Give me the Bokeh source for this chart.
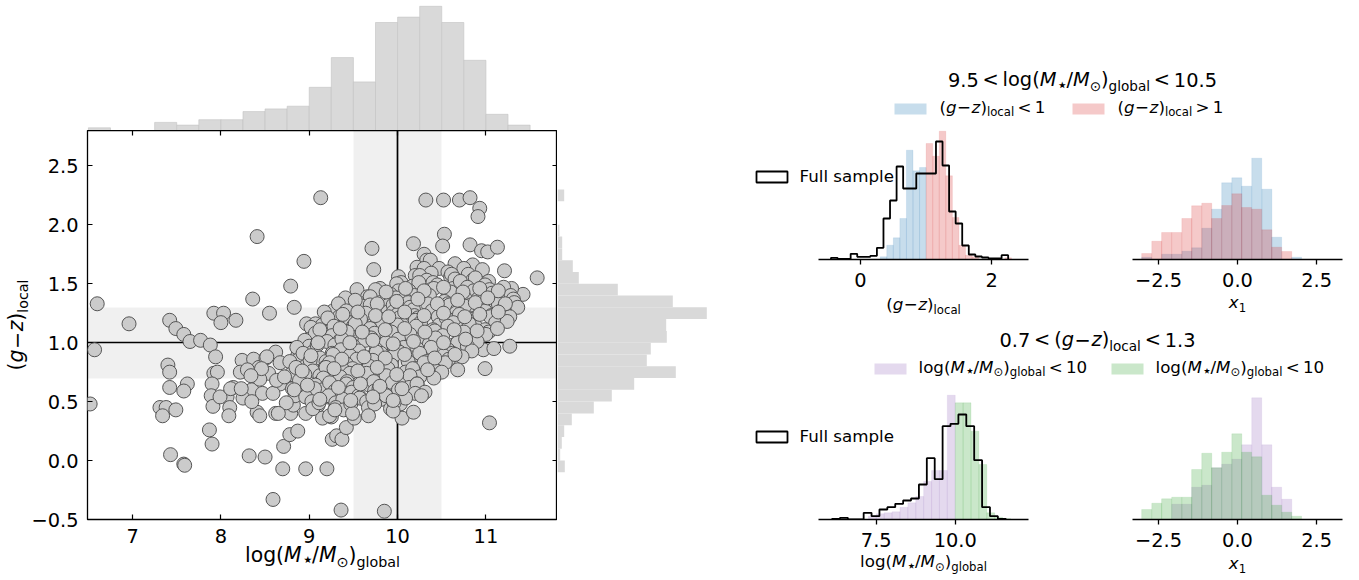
import math
from bokeh.plotting import figure
from bokeh.models import Range1d, LinearAxis, FixedTicker, Label, GridBox, Spacer
from bokeh.layouts import row, column
from bokeh.embed import file_html
from bokeh.resources import INLINE

FONT = "DejaVu Sans"

# ------------------------------------------------------------------ data
# main scatter: (log M*/Msun global, (g-z) local)
scatter_outer = [
    (9.13, 2.23), (10.32, 2.21), (10.52, 2.21), (10.70, 2.21), (10.82, 2.23), (10.93, 2.14), (10.91, 2.07),
    (8.41, 1.90), (10.53, 1.92), (10.51, 1.82), (10.18, 1.84), (9.71, 1.80), (10.82, 1.83), (10.95, 1.78),
    (11.02, 1.77), (11.13, 1.81), (8.94, 1.69), (9.73, 1.62), (11.21, 1.61), (11.58, 1.55), (8.79, 1.48),
    (8.36, 1.37), (9.54, 1.45), (11.42, 1.41), (11.29, 1.46), (8.83, 1.30), (8.55, 1.25), (6.60, 1.33),
    (6.96, 1.16), (7.92, 1.25), (8.03, 1.25), (8.00, 1.17), (8.17, 1.19), (7.42, 1.19), (7.49, 1.12),
    (7.58, 1.07), (7.65, 1.01), (7.77, 1.02), (7.88, 0.98), (7.94, 0.88), (6.57, 0.94), (7.40, 0.81),
    (7.42, 0.75), (7.42, 0.62), (7.62, 0.65), (7.58, 0.59), (6.52, 0.48), (7.31, 0.45), (7.38, 0.45),
    (7.34, 0.38), (7.49, 0.43), (7.92, 0.74), (7.96, 0.75), (7.90, 0.65), (7.89, 0.55), (7.91, 0.46),
    (7.87, 0.26), (7.90, 0.14), (7.43, 0.05), (7.58, -0.03), (7.59, -0.04), (8.32, 0.04), (8.50, 0.03),
    (8.71, 0.12), (8.78, 0.22), (8.87, 0.25), (8.70, -0.07), (8.96, -0.07), (9.20, -0.07), (8.59, -0.33),
    (9.36, -0.42), (9.85, -0.43), (9.26, 0.18), (9.31, 0.21), (9.37, 0.18), (9.42, 0.28), (9.51, 0.36),
    (10.05, 0.36), (10.18, 0.41), (11.04, 0.32), (10.99, 0.78), (11.27, 0.97), (10.97, 0.94), (11.09, 0.95),
    (8.07, 0.54), (8.10, 0.45), (8.09, 0.38), (8.24, 0.85), (8.37, 0.86), (8.22, 0.75), (8.43, 0.79),
    (8.51, 0.87), (8.62, 0.92), (8.67, 0.83), (8.35, 0.60), (8.41, 0.41), (8.44, 0.38), (8.25, 0.53),
    (8.14, 0.62), (8.47, 0.57), (8.62, 0.40), (8.79, 0.40), (8.82, 0.47), (8.96, 0.40), (9.10, 0.47),
    (9.15, 0.36), (9.25, 0.37), (8.87, 0.64), (8.84, 0.55), (8.67, 0.65), (8.54, 0.74), (8.90, 0.95),
    (8.87, 0.89), (8.97, 1.16), (9.07, 1.16), (9.04, 1.08), (8.30, 0.77), (8.59, 0.57), (8.44, 0.69),
    (8.52, 0.88), (8.46, 0.78), (8.34, 0.72), (8.63, 0.68), (8.81, 0.73), (8.74, 0.49), (7.99, 0.54),
    (8.11, 0.61), (8.23, 0.61), (8.35, 0.50), (8.65, 0.40),
]
scatter_core = [
    (10.30, 1.75), (10.33, 1.70),
    (10.22, 1.64), (10.37, 1.70), (10.47, 1.63), (10.65, 1.67), (10.81, 1.62), (10.85, 1.66),
    (10.20, 1.57), (10.30, 1.63), (10.38, 1.59), (10.57, 1.60), (10.60, 1.56), (10.75, 1.63), (10.80, 1.58), (10.96, 1.62),
    (10.01, 1.56), (10.04, 1.51), (10.25, 1.57), (10.33, 1.53), (10.40, 1.51), (10.61, 1.58), (10.65, 1.54), (10.85, 1.53),
    (10.88, 1.55), (11.03, 1.52),
    (9.80, 1.46), (9.99, 1.50), (10.01, 1.44), (10.17, 1.48), (10.24, 1.51), (10.38, 1.45), (10.45, 1.49), (10.63, 1.46),
    (10.71, 1.52), (10.79, 1.47), (10.99, 1.49), (11.04, 1.45), (11.20, 1.47),
    (9.66, 1.39), (9.75, 1.45), (9.92, 1.41), (9.98, 1.38), (10.13, 1.44), (10.19, 1.40), (10.35, 1.42), (10.41, 1.46),
    (10.57, 1.39), (10.60, 1.43), (10.81, 1.40), (10.86, 1.44), (10.99, 1.38), (11.07, 1.42), (11.28, 1.40), (11.31, 1.37),
    (9.41, 1.38), (9.61, 1.33), (9.69, 1.39), (9.86, 1.35), (9.90, 1.32), (10.08, 1.37), (10.12, 1.34), (10.33, 1.36),
    (10.36, 1.40), (10.53, 1.35), (10.57, 1.33), (10.76, 1.38), (10.83, 1.32), (10.91, 1.37), (11.09, 1.35), (11.13, 1.39),
    (11.32, 1.34),
    (9.27, 1.27), (9.33, 1.33), (9.52, 1.28), (9.60, 1.31), (9.69, 1.32), (9.89, 1.26), (9.95, 1.32), (10.14, 1.30),
    (10.18, 1.28), (10.34, 1.33), (10.40, 1.27), (10.59, 1.32), (10.68, 1.28), (10.76, 1.31), (10.94, 1.29), (10.98, 1.26),
    (11.14, 1.33), (11.20, 1.29), (11.36, 1.30),
    (9.17, 1.26), (9.34, 1.22), (9.42, 1.27), (9.59, 1.21), (9.64, 1.25), (9.80, 1.20), (9.95, 1.26), (10.00, 1.24),
    (10.19, 1.23), (10.23, 1.21), (10.39, 1.27), (10.46, 1.22), (10.66, 1.25), (10.70, 1.24), (10.82, 1.20), (10.99, 1.27),
    (11.06, 1.23), (11.22, 1.24), (11.27, 1.22),
    (9.15, 1.15), (9.21, 1.21), (9.41, 1.19), (9.50, 1.14), (9.58, 1.20), (9.77, 1.17), (9.83, 1.16), (10.02, 1.21),
    (10.06, 1.15), (10.20, 1.19), (10.26, 1.17), (10.47, 1.15), (10.55, 1.21), (10.63, 1.17), (10.82, 1.18), (10.88, 1.14),
    (11.05, 1.22), (11.11, 1.17), (11.24, 1.18),
    (9.02, 1.13), (9.21, 1.09), (9.28, 1.14), (9.46, 1.10), (9.52, 1.16), (9.69, 1.12), (9.74, 1.08), (9.95, 1.13),
    (10.00, 1.15), (10.14, 1.09), (10.21, 1.14), (10.40, 1.11), (10.49, 1.08), (10.57, 1.14), (10.75, 1.12), (10.81, 1.16),
    (10.99, 1.11), (11.03, 1.09),
    (9.01, 1.03), (9.07, 1.08), (9.26, 1.06), (9.35, 1.02), (9.43, 1.09), (9.62, 1.07), (9.70, 1.04), (9.88, 1.06),
    (9.93, 1.09), (10.07, 1.03), (10.14, 1.07), (10.35, 1.05), (10.42, 1.10), (10.51, 1.06), (10.70, 1.02), (10.75, 1.09),
    (10.90, 1.05), (11.00, 1.07),
    (8.95, 1.02), (9.00, 0.97), (9.20, 1.01), (9.29, 0.98), (9.37, 1.03), (9.55, 0.99), (9.63, 1.02), (9.82, 0.97),
    (9.87, 1.00), (10.01, 1.03), (10.07, 0.96), (10.27, 1.01), (10.36, 0.99), (10.43, 1.04), (10.63, 0.98), (10.68, 1.00),
    (10.84, 0.96), (10.90, 1.01),
    (8.86, 0.96), (9.04, 0.92), (9.09, 0.98), (9.26, 0.91), (9.36, 0.94), (9.50, 0.97), (9.56, 0.93), (9.76, 0.94),
    (9.81, 0.91), (9.96, 0.97), (10.02, 0.92), (10.22, 0.95), (10.30, 0.90), (10.38, 0.96), (10.57, 0.94), (10.62, 0.91),
    (10.79, 0.97), (10.84, 0.93),
    (8.87, 0.85), (8.93, 0.91), (9.12, 0.87), (9.19, 0.84), (9.27, 0.90), (9.46, 0.89), (9.54, 0.86), (9.71, 0.88),
    (9.76, 0.92), (9.93, 0.85), (9.97, 0.90), (10.16, 0.87), (10.25, 0.91), (10.33, 0.84), (10.52, 0.89), (10.58, 0.86),
    (10.73, 0.88),
    (8.78, 0.84), (8.96, 0.80), (9.01, 0.85), (9.18, 0.79), (9.23, 0.83), (9.42, 0.82), (9.49, 0.78), (9.67, 0.83),
    (9.72, 0.85), (9.89, 0.80), (9.93, 0.81), (10.12, 0.84), (10.21, 0.78), (10.30, 0.83), (10.48, 0.81), (10.54, 0.83),
    (10.68, 0.77),
    (8.79, 0.73), (8.85, 0.79), (9.04, 0.76), (9.12, 0.72), (9.19, 0.79), (9.38, 0.77), (9.46, 0.74), (9.64, 0.76),
    (9.68, 0.80), (9.83, 0.73), (9.89, 0.78), (10.09, 0.75), (10.17, 0.78), (10.25, 0.71), (10.44, 0.76), (10.50, 0.75),
    (8.72, 0.71), (8.90, 0.68), (8.95, 0.73), (9.12, 0.66), (9.16, 0.70), (9.35, 0.71), (9.43, 0.67), (9.61, 0.71),
    (9.65, 0.74), (9.80, 0.67), (9.87, 0.72), (10.06, 0.69), (10.14, 0.72), (10.22, 0.65), (10.41, 0.70),
    (8.81, 0.61), (8.89, 0.68), (9.07, 0.64), (9.15, 0.60), (9.23, 0.66), (9.42, 0.65), (9.50, 0.62), (9.68, 0.64),
    (9.73, 0.67), (9.87, 0.60), (9.94, 0.66), (10.13, 0.62), (10.22, 0.65), (10.31, 0.58),
    (8.83, 0.60), (9.01, 0.57), (9.06, 0.61), (9.21, 0.54), (9.29, 0.59), (9.48, 0.58), (9.56, 0.55), (9.74, 0.59),
    (9.79, 0.61), (9.94, 0.55), (10.01, 0.60), (10.20, 0.57), (10.27, 0.55),
    (8.96, 0.54), (9.03, 0.50), (9.22, 0.55), (9.30, 0.49), (9.38, 0.52), (9.57, 0.53), (9.65, 0.50), (9.82, 0.52),
    (9.87, 0.55), (10.03, 0.48), (10.09, 0.53),
    (9.04, 0.44), (9.11, 0.49), (9.30, 0.45), (9.39, 0.43), (9.47, 0.48), (9.67, 0.45), (9.74, 0.48), (9.92, 0.44),
    (9.96, 0.49),
    (9.23, 0.38), (9.29, 0.43), (9.49, 0.40), (9.67, 0.38), (9.95, 0.42),
]
scatter_fill = [
    (9.87, 1.43), (10.09, 1.46), (10.30, 1.44), (10.52, 1.47), (10.74, 1.43), (10.93, 1.46), (11.14, 1.44),
    (9.52, 1.36), (9.77, 1.33), (9.99, 1.35), (10.23, 1.37), (10.45, 1.33), (10.68, 1.36), (10.88, 1.34),
    (11.02, 1.38), (11.22, 1.33),
    (9.38, 1.24), (9.55, 1.26), (9.75, 1.23), (9.90, 1.22), (10.08, 1.26), (10.30, 1.23), (10.52, 1.25),
    (10.76, 1.22), (10.93, 1.24), (11.14, 1.26),
    (9.12, 1.11), (9.35, 1.12), (9.60, 1.09), (9.86, 1.11), (10.08, 1.12), (10.31, 1.09), (10.64, 1.11),
    (10.90, 1.10), (11.13, 1.12),
    (9.10, 1.00), (9.46, 1.00), (9.72, 1.02), (9.95, 0.99), (10.18, 1.01), (10.52, 1.00), (10.77, 1.03),
    (9.02, 0.89), (9.37, 0.86), (9.62, 0.88), (9.86, 0.87), (10.08, 0.90), (10.42, 0.87), (10.65, 0.90),
    (8.92, 0.76), (9.28, 0.78), (9.55, 0.76), (9.77, 0.79), (9.99, 0.73), (10.34, 0.77),
    (8.98, 0.64), (9.33, 0.62), (9.58, 0.65), (9.80, 0.63), (10.05, 0.61),
    (9.12, 0.52), (9.47, 0.51), (9.72, 0.54), (9.95, 0.51),
]
all_points = scatter_outer + scatter_core + scatter_fill
mass_global = [p[0] for p in all_points]
gz_local = [p[1] for p in all_points]

mass_ticks = [7, 8, 9, 10, 11]
gz_ticks = [-0.5, 0.0, 0.5, 1.0, 1.5, 2.0, 2.5]
gz_tick_labels = ["\u22120.5", "0.0", "0.5", "1.0", "1.5", "2.0", "2.5"]

mass_band = [9.5, 10.5]
gz_band = [0.7, 1.3]
mass_split = [10.0]
gz_split = [1.0]

# marginal histograms
mass_hist_left = [6.50, 7.25, 7.50, 7.75, 8.00, 8.25, 8.50, 8.75, 9.00, 9.25, 9.50, 9.75, 10.00, 10.25,
                  10.50, 10.75, 11.00, 11.25]
mass_hist_counts = [1, 3, 2, 4, 4, 7, 8, 9, 16, 27, 18, 40, 42, 46, 40, 26, 6, 2]
mass_bin = 0.25
gz_hist_low = [-0.1, 0.0, 0.1, 0.2, 0.3, 0.4, 0.5, 0.6, 0.7, 0.8, 0.9, 1.0, 1.1, 1.2, 1.3, 1.4, 1.5, 1.6,
               1.7, 1.8, 1.9, 2.2]
gz_hist_counts = [7.3, 2.7, 4.3, 6.7, 14.3, 36.3, 54.3, 76.7, 118.3, 89.3, 93.3, 109.3, 108.7, 149.3,
                  115.3, 60.3, 21.3, 15.3, 4.7, 4.7, 2.0, 6.7]
gz_bin = 0.1

# panel A: (g-z)local distribution for 9.5 < logM < 10.5
pa_blue_left = [0.3, 0.4, 0.5, 0.6, 0.7, 0.8, 0.9]
pa_blue = [2.7, 14.3, 21.7, 41.0, 109.3, 88.7, 92.0]
pa_red_left = [1.0, 1.1, 1.2, 1.3, 1.4, 1.5, 1.6, 1.7, 2.2]
pa_red = [116.0, 103.3, 128.3, 83.7, 42.0, 14.3, 4.3, 2.7, 1.7]
pa_bin = 0.1
pa_full_edges = [-0.45, -0.35, -0.25, -0.15, -0.05, 0.05, 0.15, 0.25, 0.35, 0.45, 0.55, 0.65, 0.75, 0.85,
                 0.95, 1.05, 1.15, 1.25, 1.35, 1.45, 1.55, 1.65, 1.75, 1.85, 1.95, 2.05, 2.15, 2.25]
pa_full = [1.7, 0.7, 0.7, 5.7, 2.7, 2.7, 3.7, 11.7, 41.0, 59.0, 93.0, 71.0, 71.0, 86.0, 86.0, 86.0, 118.0,
           94.0, 48.0, 36.0, 14.0, 5.0, 3.0, 2.0, 1.0, 1.0, 4.3]
pa_ticks = [0, 2]
pa_tick_labels = ["0", "2"]

# panel B: x1 for the same split
x1_edges = [-3.03, -2.71, -2.40, -2.08, -1.76, -1.45, -1.13, -0.82, -0.50, -0.18, 0.13, 0.45, 0.77, 1.08,
            1.40, 1.71, 2.03]
pb_blue = [2.3, 0.0, 5.3, 5.3, 8.3, 11.7, 31.3, 50.3, 76.7, 81.7, 73.3, 101.3, 70.3, 22.3, 0.0, 2.3]
pb_red = [6.0, 18.3, 27.0, 27.0, 41.0, 53.7, 56.3, 41.0, 54.0, 65.7, 52.0, 50.3, 29.7, 12.3, 8.0, 0.0]
x1_ticks = [-2.5, 0.0, 2.5]
x1_tick_labels = ["\u22122.5", "0.0", "2.5"]

# panel C: logM distribution for 0.7 < (g-z) < 1.3
pc_purple_left = [7.25, 7.50, 7.75, 8.00, 8.25, 8.50, 8.75, 9.00, 9.25, 9.50, 9.75]
pc_purple = [3.3, 5.7, 6.7, 7.7, 12.3, 16.7, 23.0, 38.0, 49.0, 49.0, 124.3]
pc_green_left = [10.00, 10.25, 10.50, 10.75, 11.00, 11.25, 11.50]
pc_green = [116.7, 116.7, 88.3, 55.0, 6.7, 2.3, 1.0]
pc_bin = 0.25
pc_full_edges = [6.10, 6.35, 6.60, 6.85, 7.10, 7.35, 7.60, 7.85, 8.10, 8.35, 8.60, 8.85, 9.10, 9.35, 9.60,
                 9.85, 10.10, 10.35, 10.60, 10.85, 11.10, 11.35, 11.60]
pc_full = [0.7, 1.7, 0.0, 0.0, 6.7, 3.3, 10.0, 12.3, 15.7, 19.0, 21.0, 35.0, 61.3, 40.3, 93.3, 95.7, 105.0,
           93.3, 59.3, 12.3, 3.3, 0.7]
pc_ticks = [7.5, 10.0]
pc_tick_labels = ["7.5", "10.0"]

# panel D: x1 for the same split
pd_purple = [0.0, 0.0, 0.0, 15.3, 15.3, 32.3, 34.3, 51.7, 55.3, 60.3, 74.7, 121.7, 74.7, 32.3, 20.3, 0.0]
pd_green = [10.0, 16.3, 20.7, 22.3, 22.3, 50.0, 66.3, 51.7, 67.3, 85.7, 67.3, 62.7, 24.3, 14.3, 7.3, 3.3]

BLUE, RED, PURPLE, GREEN = "#1f77b4", "#d62728", "#9467bd", "#2ca02c"
HALPHA = 0.25

W, H = 1359, 580

# ------------------------------------------------------------------ figure factory
def base_fig(w, h, xr, yr, xaxis=False, yaxis=False, **borders):
    kw = dict(min_border=0)
    kw.update(borders)
    p = figure(width=w, height=h, x_range=xr, y_range=yr, output_backend="svg", toolbar_location=None,
               x_axis_type=("linear" if xaxis else None), y_axis_type=("linear" if yaxis else None), **kw)
    p.outline_line_color = None
    p.background_fill_color = "white"
    p.border_fill_color = "white"
    if xaxis or yaxis:
        p.grid.grid_line_color = None
    return p


def style_panel_axis(p, ticks, labels):
    ax = p.xaxis[0]
    ax.ticker = FixedTicker(ticks=ticks)
    ax.major_label_overrides = {t: l for t, l in zip(ticks, labels)}
    ax.axis_line_color = "black"
    ax.axis_line_width = 1.3
    ax.major_tick_line_width = 1.3
    ax.major_tick_in = 0
    ax.major_tick_out = 5
    ax.minor_tick_line_color = None
    ax.major_label_text_font = FONT
    ax.major_label_text_font_size = "19.4px"
    ax.major_label_text_color = "black"
    ax.major_label_standoff = 8


# ------------------------------------------------------------------ left block
xr_mass = Range1d(6.49, 11.81)
yr_gz = Range1d(-0.5, 2.8)

top = base_fig(557, 130, xr_mass, Range1d(0, 48.15), min_border_left=87)
top.quad(left=mass_hist_left, right=[l + mass_bin for l in mass_hist_left], bottom=0, top=mass_hist_counts,
         fill_color="#d9d9d9", line_color="#c2c2c2", line_width=0.6)

main = figure(width=557, height=450, x_range=xr_mass, y_range=yr_gz, output_backend="svg",
              toolbar_location=None, min_border=0, min_border_left=87, min_border_bottom=61)
main.grid.grid_line_color = None
main.outline_line_color = "black"
main.outline_line_width = 1.3
main.background_fill_color = "white"
main.border_fill_color = "white"

main.vstrip(x0=[mass_band[0]], x1=[mass_band[1]], fill_color="black", fill_alpha=0.06, line_color=None)
main.hstrip(y0=[gz_band[0]], y1=[gz_band[1]], fill_color="black", fill_alpha=0.06, line_color=None)
main.vspan(x=mass_split, line_color="black", line_width=1.7)
main.hspan(y=gz_split, line_color="black", line_width=1.7)
main.scatter(mass_global, gz_local, size=14, fill_color="#cbcbcb", line_color="#555555", line_width=1.0)

xa, ya = main.xaxis[0], main.yaxis[0]
xa.ticker = FixedTicker(ticks=mass_ticks)
ya.ticker = FixedTicker(ticks=gz_ticks)
ya.major_label_overrides = {t: l for t, l in zip(gz_ticks, gz_tick_labels)}
for ax in (xa, ya):
    ax.axis_line_color = None
    ax.major_tick_in = 5
    ax.major_tick_out = 0
    ax.major_tick_line_width = 1.2
    ax.minor_tick_line_color = None
    ax.major_label_text_font = FONT
    ax.major_label_text_font_size = "19.4px"
    ax.major_label_text_color = "black"
xa.major_label_standoff = 9
ya.major_label_standoff = 9

for loc, tk in (("above", mass_ticks), ("right", gz_ticks)):
    ax = LinearAxis(ticker=FixedTicker(ticks=tk), axis_line_color=None, major_tick_in=5, major_tick_out=0,
                    major_tick_line_width=1.2, minor_tick_line_color=None, major_label_standoff=0,
                    major_label_text_font_size="0px", major_label_overrides={t: "" for t in tk})
    main.add_layout(ax, loc)

rhist = base_fig(163, 450, Range1d(0, 163), yr_gz, min_border_bottom=61)
rhist.quad(left=0, right=gz_hist_counts, bottom=gz_hist_low, top=[v + gz_bin for v in gz_hist_low],
           fill_color="#d9d9d9", line_color=None)

left_block = column(top, row(main, rhist))


# ------------------------------------------------------------------ right block
def hist_bars(p, lefts, heights, width, color):
    p.quad(left=lefts, right=[l + width for l in lefts], bottom=0, top=heights, fill_color=color,
           fill_alpha=HALPHA, line_color=color, line_alpha=0.12, line_width=0.8)


def step_outline(p, edges, heights):
    xs = [edges[0]] + list(edges)
    ys = [0.0] + list(heights) + [0.0]
    p.step(xs, ys, mode="after", line_color="black", line_width=1.8)


pA = base_fig(359, 198, Range1d(-0.64, 2.56), Range1d(0, 134), xaxis=True,
              min_border_left=98, min_border_right=51, min_border_top=3, min_border_bottom=61)
hist_bars(pA, pa_blue_left, pa_blue, pa_bin, BLUE)
hist_bars(pA, pa_red_left, pa_red, pa_bin, RED)
step_outline(pA, pa_full_edges, pa_full)
style_panel_axis(pA, pa_ticks, pa_tick_labels)

pB = base_fig(280, 198, Range1d(-3.32, 3.32), Range1d(0, 134), xaxis=True,
              min_border_left=53, min_border_right=17, min_border_top=3, min_border_bottom=61)
hist_bars(pB, x1_edges[:-1], pb_blue, 0.316, BLUE)
hist_bars(pB, x1_edges[:-1], pb_red, 0.316, RED)
style_panel_axis(pB, x1_ticks, x1_tick_labels)

pC = base_fig(359, 195, Range1d(5.67, 12.32), Range1d(0, 131), xaxis=True,
              min_border_left=98, min_border_right=51, min_border_top=3, min_border_bottom=61)
hist_bars(pC, pc_purple_left, pc_purple, pc_bin, PURPLE)
hist_bars(pC, pc_green_left, pc_green, pc_bin, GREEN)
step_outline(pC, pc_full_edges, pc_full)
style_panel_axis(pC, pc_ticks, pc_tick_labels)

pD = base_fig(280, 195, Range1d(-3.32, 3.32), Range1d(0, 131), xaxis=True,
              min_border_left=53, min_border_right=17, min_border_top=3, min_border_bottom=61)
hist_bars(pD, x1_edges[:-1], pd_purple, 0.316, PURPLE)
hist_bars(pD, x1_edges[:-1], pd_green, 0.316, GREEN)
style_panel_axis(pD, x1_ticks, x1_tick_labels)

right_block = column(Spacer(width=639, height=122), row(pA, pB), Spacer(width=639, height=65), row(pC, pD))
panels = row(left_block, right_block)

# ------------------------------------------------------------------ transparent text overlay (page pixels)
ov = figure(width=W, height=H, x_range=Range1d(0, W), y_range=Range1d(H, 0), output_backend="svg",
            toolbar_location=None, x_axis_type=None, y_axis_type=None, min_border=0)
ov.outline_line_color = None
ov.background_fill_color = None
ov.border_fill_color = None

ADV = {'0': 1303, '1': 1303, '2': 1303, '3': 1303, '4': 1303, '5': 1303, '6': 1303, '7': 1303, '8': 1303,
       '9': 1303, '.': 651, '<': 1716, '>': 1716, '(': 799, ')': 799, '\u2212': 1716, '/': 690, 'M': 1767,
       '\u22c6': 1100, '\u2299': 1716, 'g': 1300, 'l': 569, 'o': 1253, 'b': 1300, 'a': 1255, 'c': 1126,
       'z': 1075, 'x': 1212}
SUB, DROP, OPGAP = 0.7, 0.2, 0.195
BASEFIX = 0.42   # renderer draws "alphabetic" text this many em lower than requested


def piece_size(kind, size):
    if kind == "sub":
        return size * SUB
    if kind == "star":
        return size * 0.95
    return size


def seg_width(segs, size):
    w = 0.0
    for t, kind in segs:
        if kind == "gap":
            w += t * size
        else:
            w += sum(ADV.get(c, 1250) for c in t) / 2048.0 * piece_size(kind, size)
    return w


def put_math(start, baseline, segs, size, center=False, vertical=False):
    width = seg_width(segs, size)
    if center:
        start = start + width / 2 if vertical else start - width / 2
    pos = 0.0
    for t, kind in segs:
        if kind == "gap":
            pos += t * size
            continue
        fs = piece_size(kind, size)
        drop = (DROP * size if kind in ("sub", "star") else 0.0) - BASEFIX * fs
        if vertical:
            px, py = baseline + drop, start - pos
        else:
            px, py = start + pos, baseline + drop
        ov.add_layout(Label(x=px, y=py, text=t, text_font=FONT, text_font_size=f"{fs:.2f}px",
                            text_font_style="italic" if kind == "it" else "normal",
                            text_baseline="alphabetic", text_align="left", text_color="black",
                            angle=(math.pi / 2 if vertical else 0.0)))
        pos += sum(ADV.get(c, 1250) for c in t) / 2048.0 * fs


GZ = [("(", "rm"), ("g", "it"), (0.03, "gap"), ("\u2212", "rm"), (0.03, "gap"), ("z", "it"), (")", "rm"),
      ("local", "sub")]
MASS = [("log(", "rm"), ("M", "it"), ("\u22c6", "star"), ("/", "rm"), ("M", "it"), ("\u2299", "sub"), (")", "rm"),
        ("global", "sub")]
X1 = [("x", "it"), ("1", "sub")]


def rel(sym):
    return [(OPGAP, "gap"), (sym, "rm"), (OPGAP, "gap")]


# main axis labels
put_math(322, 563.3, MASS, 20.4, center=True)
put_math(324.5, 24.3, GZ, 20.4, center=True, vertical=True)
# small-panel axis labels
put_math(923, 311, GZ, 16.7, center=True)
put_math(1237, 308.3, X1, 16.7, center=True)
put_math(923, 568, MASS, 16.7, center=True)
put_math(1237, 570, X1, 16.7, center=True)
# titles
put_math(1082, 87.5, [("9.5", "rm")] + rel("<") + MASS + rel("<") + [("10.5", "rm")], 19.4, center=True)
put_math(1097, 347.5, [("0.7", "rm")] + rel("<") + GZ + rel("<") + [("1.3", "rm")], 19.4, center=True)
# colour legends
ov.quad(left=[894, 1072, 874, 1111], right=[926, 1104, 906, 1143], top=[103, 103, 363, 363],
        bottom=[114, 114, 374, 374], fill_color=[BLUE, RED, PURPLE, GREEN], fill_alpha=HALPHA, line_color=None)
put_math(939, 113.5, GZ + rel("<") + [("1", "rm")], 16.7)
put_math(1117, 113.5, GZ + rel(">") + [("1", "rm")], 16.7)
put_math(918, 373.5, MASS + rel("<") + [("10", "rm")], 16.7)
put_math(1155, 373.5, MASS + rel("<") + [("10", "rm")], 16.7)
# "Full sample" legends
ov.quad(left=[756, 756], right=[787, 787], top=[171, 431], bottom=[182, 442], fill_color="white",
        line_color="black", line_width=1.8)
for yb in (182.3, 442.3):
    ov.add_layout(Label(x=799, y=yb - BASEFIX * 16.7, text="Full sample", text_font=FONT,
                        text_font_size="16.7px", text_baseline="alphabetic", text_align="left",
                        text_color="black"))

layout = GridBox(children=[(panels, 0, 0), (ov, 0, 0)])

open("out.html", "w").write(file_html(layout, INLINE))
